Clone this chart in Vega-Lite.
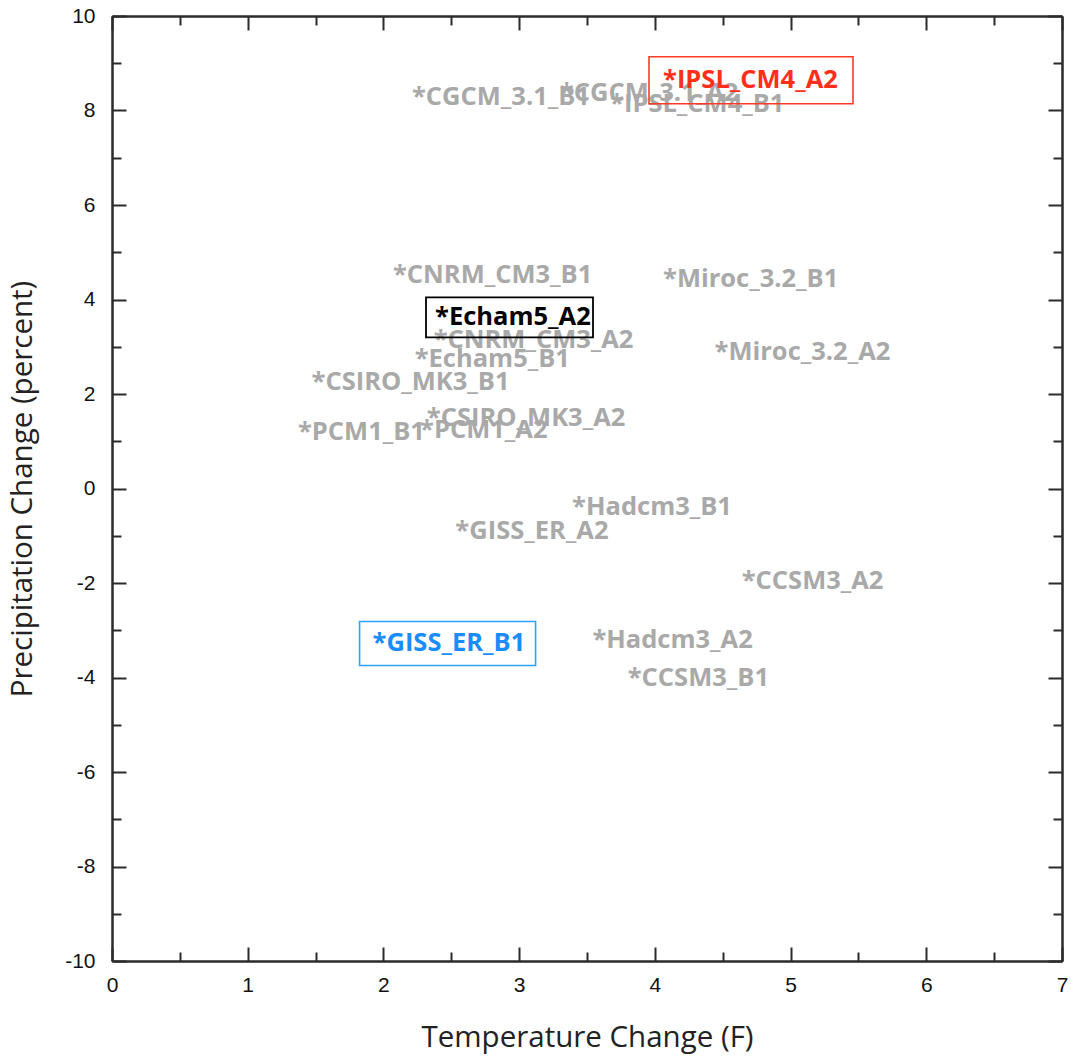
{
  "$schema": "https://vega.github.io/schema/vega-lite/v6.json",
  "width": 950,
  "height": 945,
  "autosize": "none",
  "padding": {"left": 112, "top": 16, "right": 9, "bottom": 98},
  "background": "white",
  "config": {
    "view": {"stroke": null},
    "axis": {
      "grid": false,
      "domainColor": "#2b2b2b",
      "domainWidth": 2,
      "tickColor": "#2b2b2b",
      "tickWidth": 2,
      "labelFont": "Liberation Sans",
      "labelFontSize": 21,
      "labelColor": "#111111",
      "labelFlush": false,
      "labelOverlap": false,
      "labelExpr": "replace(datum.label, '\u2212', '-')",
      "titleFont": "Open Sans",
      "titleFontSize": 29.5,
      "titleFontWeight": "normal",
      "titleColor": "#222222"
    }
  },
  "data": {
    "values": [
      {"label": "*CGCM_3.1_B1", "temp": 2.21, "precip": 8.28, "role": "other"},
      {"label": "*CGCM_3.1_A2", "temp": 3.30, "precip": 8.37, "role": "other"},
      {"label": "*IPSL_CM4_B1", "temp": 3.67, "precip": 8.13, "role": "other"},
      {"label": "*CNRM_CM3_B1", "temp": 2.07, "precip": 4.51, "role": "other"},
      {"label": "*CNRM_CM3_A2", "temp": 2.37, "precip": 3.14, "role": "other"},
      {"label": "*Echam5_B1", "temp": 2.23, "precip": 2.75, "role": "other"},
      {"label": "*CSIRO_MK3_B1", "temp": 1.47, "precip": 2.25, "role": "other"},
      {"label": "*CSIRO_MK3_A2", "temp": 2.32, "precip": 1.50, "role": "other"},
      {"label": "*PCM1_B1", "temp": 1.37, "precip": 1.19, "role": "other"},
      {"label": "*PCM1_A2", "temp": 2.27, "precip": 1.23, "role": "other"},
      {"label": "*Miroc_3.2_B1", "temp": 4.06, "precip": 4.43, "role": "other"},
      {"label": "*Miroc_3.2_A2", "temp": 4.44, "precip": 2.88, "role": "other"},
      {"label": "*Hadcm3_B1", "temp": 3.39, "precip": -0.40, "role": "other"},
      {"label": "*GISS_ER_A2", "temp": 2.53, "precip": -0.89, "role": "other"},
      {"label": "*CCSM3_A2", "temp": 4.64, "precip": -1.95, "role": "other"},
      {"label": "*Hadcm3_A2", "temp": 3.54, "precip": -3.20, "role": "other"},
      {"label": "*CCSM3_B1", "temp": 3.80, "precip": -4.00, "role": "other"},
      {"label": "*IPSL_CM4_A2", "temp": 4.06, "precip": 8.64, "role": "high"},
      {"label": "*Echam5_A2", "temp": 2.38, "precip": 3.62, "role": "middle"},
      {"label": "*GISS_ER_B1", "temp": 1.92, "precip": -3.28, "role": "low"}
    ]
  },
  "resolve": {"axis": {"x": "independent", "y": "independent"}},
  "layer": [
    {
      "mark": {"type": "text", "align": "left", "baseline": "middle", "font": "Open Sans", "fontWeight": "bold", "fontSize": 25.5},
      "encoding": {
        "x": {
          "field": "temp", "type": "quantitative",
          "scale": {"domain": [0, 7], "nice": false, "zero": false},
          "axis": {"orient": "bottom", "values": [0, 1, 2, 3, 4, 5, 6, 7], "tickSize": -14, "labelPadding": 27, "title": "Temperature Change (F)", "titleY": 76, "titleBaseline": "middle"}
        },
        "y": {
          "field": "precip", "type": "quantitative",
          "scale": {"domain": [-10, 10], "nice": false, "zero": false},
          "axis": {"orient": "left", "values": [-10, -8, -6, -4, -2, 0, 2, 4, 6, 8, 10], "tickSize": -14, "labelPadding": 31, "title": "Precipitation Change (percent)", "titleX": -90, "titleBaseline": "middle"}
        },
        "text": {"field": "label"},
        "color": {
          "field": "role", "type": "nominal",
          "scale": {"domain": ["other", "high", "middle", "low"], "range": ["#a9a9a9", "#ff2f1c", "#000000", "#1a8cff"]},
          "legend": null
        }
      }
    },
    {
      "transform": [{"filter": "datum.label == '*IPSL_CM4_A2'"}],
      "mark": {"type": "point", "shape": "M-1,-0.2304L1,-0.2304L1,0.2304L-1,0.2304Z", "size": 41616, "filled": false, "stroke": "#ff3b26", "strokeWidth": 1.6, "opacity": 1, "xOffset": 88},
      "encoding": {
        "x": {
          "field": "temp", "type": "quantitative",
          "scale": {"domain": [0, 7], "nice": false, "zero": false},
          "axis": {"orient": "bottom", "values": [0.5, 1.5, 2.5, 3.5, 4.5, 5.5, 6.5], "tickSize": -9, "labels": false, "title": null}
        },
        "y": {
          "field": "precip", "type": "quantitative",
          "scale": {"domain": [-10, 10], "nice": false, "zero": false},
          "axis": {"orient": "left", "values": [-9, -7, -5, -3, -1, 1, 3, 5, 7, 9], "tickSize": -9, "labels": false, "title": null}
        }
      }
    },
    {
      "transform": [{"filter": "datum.label == '*Echam5_A2'"}],
      "mark": {"type": "point", "shape": "M-1,-0.2395L1,-0.2395L1,0.2395L-1,0.2395Z", "size": 27889, "filled": false, "stroke": "#000000", "strokeWidth": 1.8, "opacity": 1, "xOffset": 74.5},
      "encoding": {
        "x": {
          "field": "temp", "type": "quantitative",
          "scale": {"domain": [0, 7], "nice": false, "zero": false},
          "axis": {"orient": "top", "values": [0, 1, 2, 3, 4, 5, 6, 7], "tickSize": -14, "labels": false, "title": null}
        },
        "y": {
          "field": "precip", "type": "quantitative",
          "scale": {"domain": [-10, 10], "nice": false, "zero": false},
          "axis": {"orient": "right", "values": [-10, -8, -6, -4, -2, 0, 2, 4, 6, 8, 10], "tickSize": -14, "labels": false, "title": null}
        }
      }
    },
    {
      "transform": [{"filter": "datum.label == '*GISS_ER_B1'"}],
      "mark": {"type": "point", "shape": "M-1,-0.25L1,-0.25L1,0.25L-1,0.25Z", "size": 30976, "filled": false, "stroke": "#2aa4ff", "strokeWidth": 1.6, "opacity": 1, "xOffset": 75},
      "encoding": {
        "x": {
          "field": "temp", "type": "quantitative",
          "scale": {"domain": [0, 7], "nice": false, "zero": false},
          "axis": {"orient": "top", "values": [0.5, 1.5, 2.5, 3.5, 4.5, 5.5, 6.5], "tickSize": -9, "labels": false, "title": null}
        },
        "y": {
          "field": "precip", "type": "quantitative",
          "scale": {"domain": [-10, 10], "nice": false, "zero": false},
          "axis": {"orient": "right", "values": [-9, -7, -5, -3, -1, 1, 3, 5, 7, 9], "tickSize": -9, "labels": false, "title": null}
        }
      }
    }
  ]
}
